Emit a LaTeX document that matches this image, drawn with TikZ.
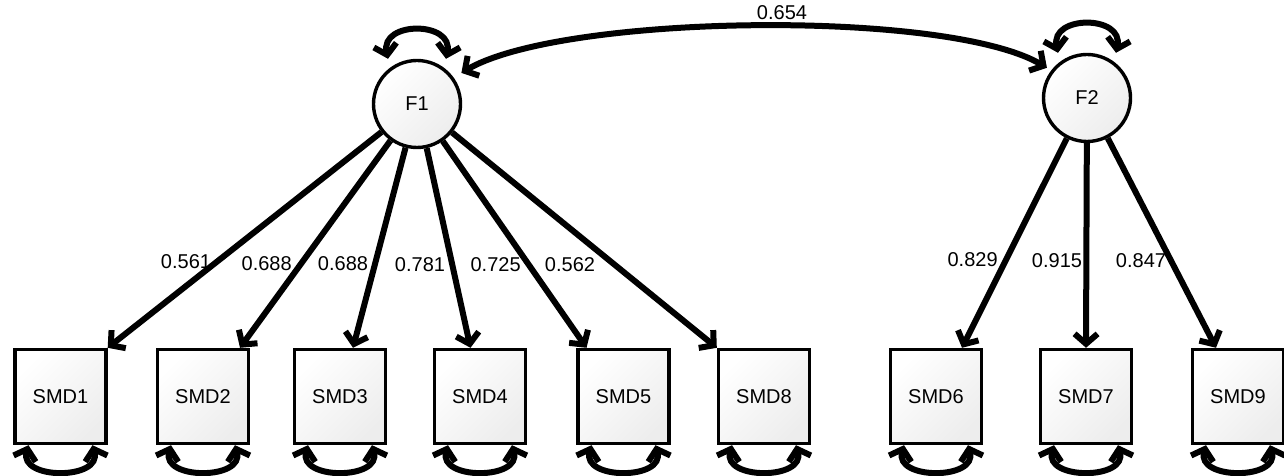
\documentclass[tikz,border=0pt]{standalone}
\usepackage{fontspec}
\setmainfont{Liberation Sans}
\usetikzlibrary{arrows.meta}
\tikzset{
  barb/.tip={Straight Barb[length=10pt,width=23pt]},
  latent/.style={circle, draw, line width=3.4pt, minimum size=87pt, inner sep=0pt,
    top color=white, bottom color=gray!14, shading angle=45,
    font=\fontsize{20}{23}\selectfont},
  observed/.style={rectangle, draw, line width=3.4pt, minimum width=91pt,
    minimum height=94pt, inner sep=0pt,
    top color=white, bottom color=gray!14, shading angle=45,
    font=\fontsize{20}{23}\selectfont},
  load/.style={line width=6pt, -barb},
  twohead/.style={line width=6pt, barb-barb},
  coef/.style={font=\fontsize{20}{23}\selectfont, inner sep=0pt},
}
\begin{document}
\begin{tikzpicture}[x=1pt,y=1pt]
\useasboundingbox (0,0) rectangle (1284,476);

% latent factors
\node[latent] (F1) at (417,372) {F1};
\node[latent] (F2) at (1087,378) {F2};

% indicators
\node[observed] (smd1) at (60.5,79.5) {SMD1};
\node[observed] (smd2) at (203,79.5) {SMD2};
\node[observed] (smd3) at (340,79.5) {SMD3};
\node[observed] (smd4) at (480,79.5) {SMD4};
\node[observed] (smd5) at (623.5,79.5) {SMD5};
\node[observed] (smd8) at (764,79.5) {SMD8};
\node[observed] (smd6) at (936,79.5) {SMD6};
\node[observed] (smd7) at (1086,79.5) {SMD7};
\node[observed] (smd9) at (1238,79.5) {SMD9};

% factor loadings
\draw[load] (F1) -- (smd1.north east);
\draw[load] (F1) -- ([xshift=37pt]smd2.north);
\draw[load] (F1) -- ([xshift=13pt]smd3.north);
\draw[load] (F1) -- ([xshift=-9.5pt]smd4.north);
\draw[load] (F1) -- ([xshift=-37pt]smd5.north);
\draw[load] (F1) -- (smd8.north west);
\draw[load] (F2) -- ([xshift=26pt]smd6.north);
\draw[load] (F2) -- (smd7.north);
\draw[load] (F2) -- ([xshift=-22pt]smd9.north);

% loading estimates
\node[coef] (l1) at (186,214.5) {0.561};
\node[coef] (l2) at (266.7,212) {0.688};
\node[coef] (l3) at (343,212) {0.688};
\node[coef] (l4) at (420,211) {0.781};
\node[coef] (l5) at (495.6,211) {0.725};
\node[coef] (l8) at (570,211) {0.562};
\node[coef] (l6) at (972.6,216) {0.829};
\node[coef] (l7) at (1057,215) {0.915};
\node[coef] (l9) at (1141,215) {0.847};

% factor covariance
\draw[twohead] ([shift={(35:9pt)}]F1.35)
  .. controls +(100,59) and +(-100,59) .. ([shift={(143:5pt)}]F2.143);
\node[coef] (cov) at (782,463) {0.654};

% factor variances
\foreach \f in {F1,F2}
  \draw[twohead] ([xshift=-29pt]\f.north)
    .. controls +(-8,38) and +(8,38) .. ([xshift=29pt]\f.north);

% residual variances
\foreach \b in {smd1,smd2,smd3,smd4,smd5,smd8,smd6,smd7,smd9}
  \draw[twohead] ([xshift=-32pt]\b.south)
    .. controls +(-10,-35) and +(10,-35) .. ([xshift=32pt]\b.south);
\end{tikzpicture}
\end{document}
